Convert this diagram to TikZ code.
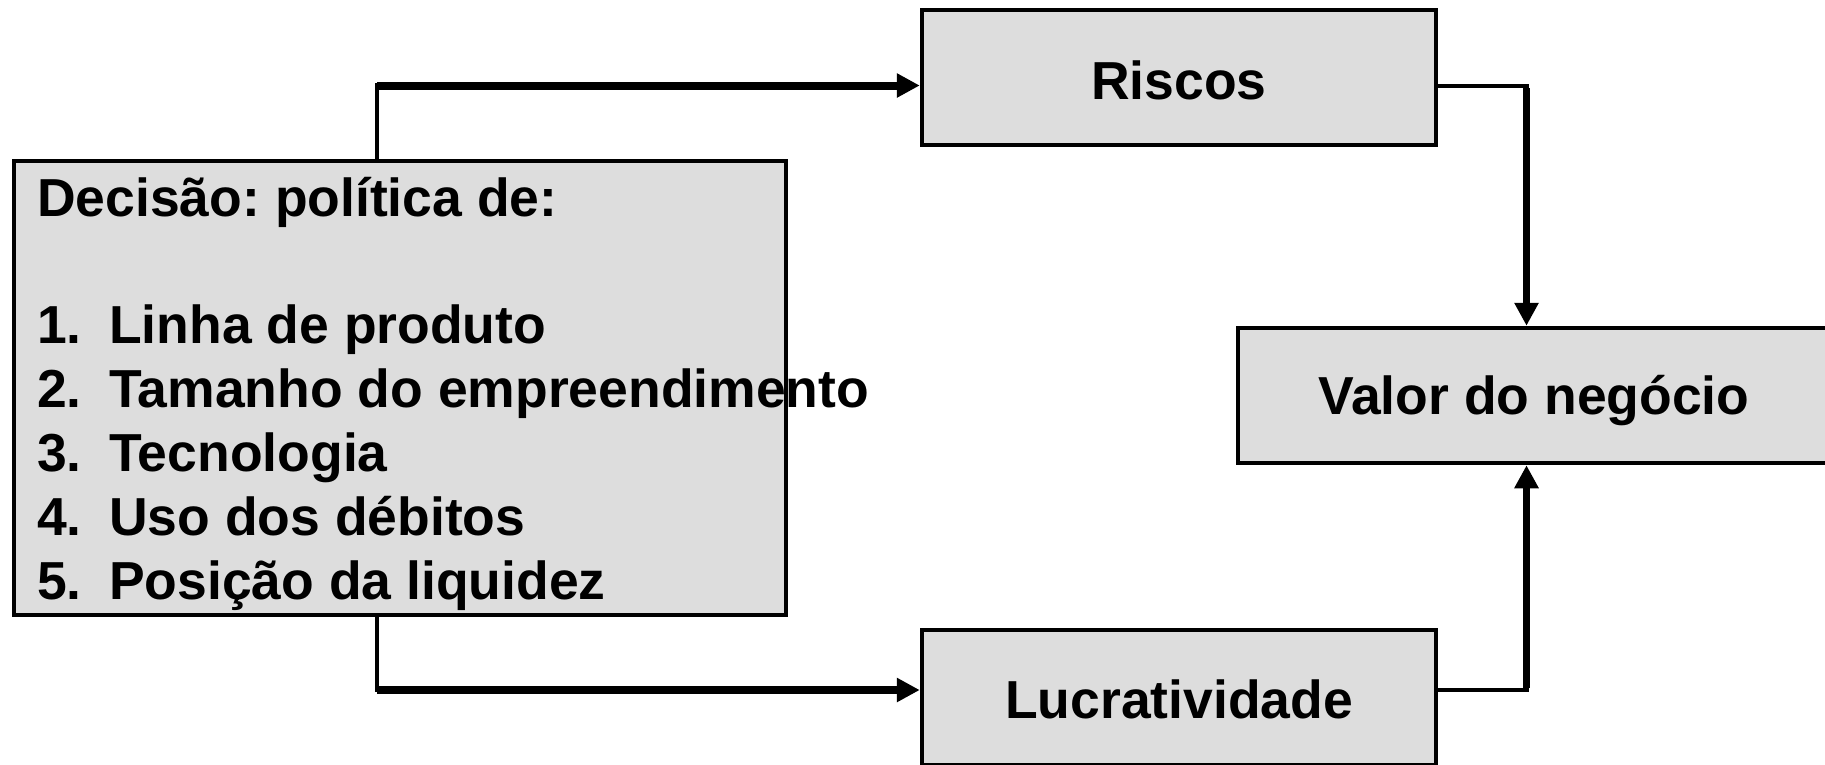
\documentclass[tikz,border=0pt]{standalone}
\usepackage{fontspec}
\setmainfont{Liberation Sans}
\usetikzlibrary{arrows.meta}
\definecolor{boxgray}{RGB}{221,221,221}
\frenchspacing
\begin{document}
\begin{tikzpicture}[x=1pt,y=-1pt,
  box/.style={draw=black,line width=4.5pt,fill=boxgray,inner sep=0pt},
  lbl/.style={font=\fontsize{53.5}{63}\selectfont\bfseries,inner sep=0pt},
  item/.style={lbl,anchor=base west},
  stub/.style={line width=4.5pt,line cap=rect},
  harrow/.style={line width=8pt,-{Triangle[length=23pt,width=23pt]}},
  varrow/.style={line width=7pt,-{Triangle[length=23pt,width=23pt]}},
]
\useasboundingbox (0,0) rectangle (1825,764);
% boxes
\node[box,minimum width=772pt,minimum height=454pt] (dec) at (400,388) {};
\node[box,minimum width=514pt,minimum height=135pt] (ris) at (1179,77.5) {};
\node[box,minimum width=590pt,minimum height=135pt] (val) at (1533,395.5) {};
\node[box,minimum width=514pt,minimum height=135pt] (luc) at (1179,697.5) {};
% labels
\node[lbl] (ristxt) at (1179,80) {Riscos};
\node[lbl] (valtxt) at (1534,401) {Valor do negócio};
\node[lbl] (luctxt) at (1179,699) {Lucratividade};
% decision text
\node[item] (t0) at (37,216) {Decisão: política de:};
\node[item] (n1) at (37,343.5) {1.};
\node[item] (i1) at (109,343.5) {Linha de produto};
\node[item] (n2) at (37,407.5) {2.};
\node[item] (i2) at (109,407.5) {Tamanho do empreendimento};
\node[item] (n3) at (37,471.5) {3.};
\node[item] (i3) at (109,471.5) {Tecnologia};
\node[item] (n4) at (37,535.5) {4.};
\node[item] (i4) at (109,535.5) {Uso dos débitos};
\node[item] (n5) at (37,599.5) {5.};
\node[item] (i5) at (109,599.5) {Posição da liquidez};
% connectors
\coordinate (c1) at (377,85.5);
\coordinate (c2) at (377,690);
\coordinate (c3) at (1526.5,86);
\coordinate (c4) at (1526.5,690);
\draw[stub] (dec.north -| c1) -- (c1);
\draw[harrow] (c1) -- (c1 -| ris.west);
\draw[stub] (dec.south -| c2) -- (c2);
\draw[harrow] (c2) -- (c2 -| luc.west);
\draw[stub,line width=4pt] (ris.east |- c3) -- (c3);
\draw[varrow] ([yshift=-2pt]c3) -- (c3 |- val.north);
\draw[stub,line width=4pt] (luc.east |- c4) -- (c4);
\draw[varrow] ([yshift=2pt]c4) -- (c4 |- val.south);
\end{tikzpicture}
\end{document}
